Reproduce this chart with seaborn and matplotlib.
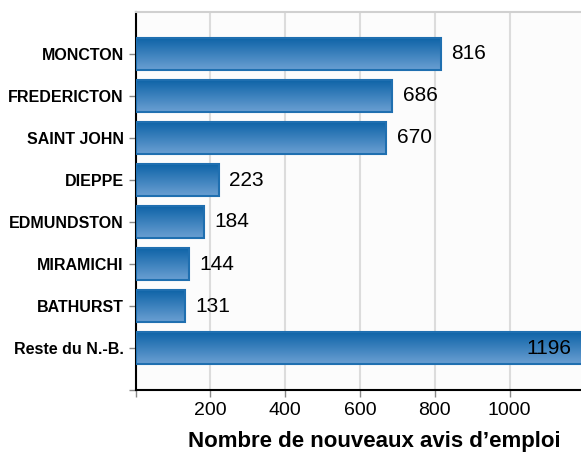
import matplotlib
matplotlib.use("Agg")
import matplotlib.pyplot as plt
import numpy as np
import pandas as pd
import seaborn as sns
from matplotlib.colors import LinearSegmentedColormap

# Données
villes = ["MONCTON", "FREDERICTON", "SAINT JOHN", "DIEPPE", "EDMUNDSTON",
          "MIRAMICHI", "BATHURST", "Reste du N.-B."]
avis = [816, 686, 670, 223, 184, 144, 131, 1196]
ticks_x = [0, 200, 400, 600, 800, 1000]
labels_x = ["", "200", "400", "600", "800", "1000"]

df = pd.DataFrame({"ville": villes, "avis": avis})

sns.set_theme(style="white")
plt.rcParams["font.family"] = ["Liberation Sans", "DejaVu Sans"]
plt.rcParams["text.color"] = "black"
plt.rcParams["xtick.color"] = "black"
plt.rcParams["ytick.color"] = "black"
plt.rcParams["axes.labelcolor"] = "black"

fig = plt.figure(figsize=(5.81, 4.53), dpi=100)
ax = fig.add_axes([135.5 / 581, 1 - 390 / 453, (581 - 135.5) / 581, (390 - 12) / 453])
ax.set_facecolor("#fcfcfc")

sns.barplot(data=df, x="avis", y="ville", orient="h", color="#2a72b5",
            width=0.76, edgecolor="#1f6fb0", linewidth=1.5, ax=ax, zorder=3)

# dégradé vertical sur chaque barre (foncé en haut, clair en bas)
grad = LinearSegmentedColormap.from_list("g", ["#0f64a8", "#6a9fd2"])
for p in ax.patches:
    x0, y0 = p.get_x(), p.get_y()
    w, h = p.get_width(), p.get_height()
    im = ax.imshow(np.linspace(0, 1, 64).reshape(-1, 1), cmap=grad, aspect="auto",
                   extent=[x0, x0 + w, y0 + h, y0], origin="upper", zorder=3.5)
    im.set_clip_path(p)
    p.set_facecolor("none")
    p.set_zorder(4)

xmax = 1191
ax.set_xlim(0, xmax)
ax.set_ylim(len(villes), -1)
ax.set_xticks(ticks_x)
ax.set_xticklabels(labels_x, fontsize=14)
ax.set_yticks(list(range(len(villes))) + [len(villes)])
ax.set_yticklabels(villes + [""], fontsize=11.5, fontweight="bold")
ax.grid(axis="x", color="#dcdcdc", linewidth=1.5, zorder=0)
ax.set_axisbelow(True)

for i, v in enumerate(avis):
    if v > 1100:
        ax.text(xmax - 27, i, str(v), ha="right", va="center", fontsize=15, zorder=5)
    else:
        ax.text(v + 28, i, str(v), ha="left", va="center", fontsize=15, zorder=5)

ax.set_xlabel("Nombre de nouveaux avis d\u2019emploi", fontsize=16, fontweight="bold")
ax.xaxis.set_label_coords(0.535, -0.108)
ax.xaxis.label.set_va("top")
ax.set_ylabel("")

for s in ["left", "bottom"]:
    ax.spines[s].set_color("black")
    ax.spines[s].set_linewidth(1.5)
ax.spines["top"].set_color("#d0d0d0")
ax.spines["top"].set_linewidth(1.5)
ax.spines["right"].set_visible(False)
ax.tick_params(axis="both", length=5, width=1, direction="out", bottom=True, left=True)
ax.tick_params(axis="both", color="#888888", labelcolor="black")

fig.savefig("out.png", dpi=100, facecolor="white")
